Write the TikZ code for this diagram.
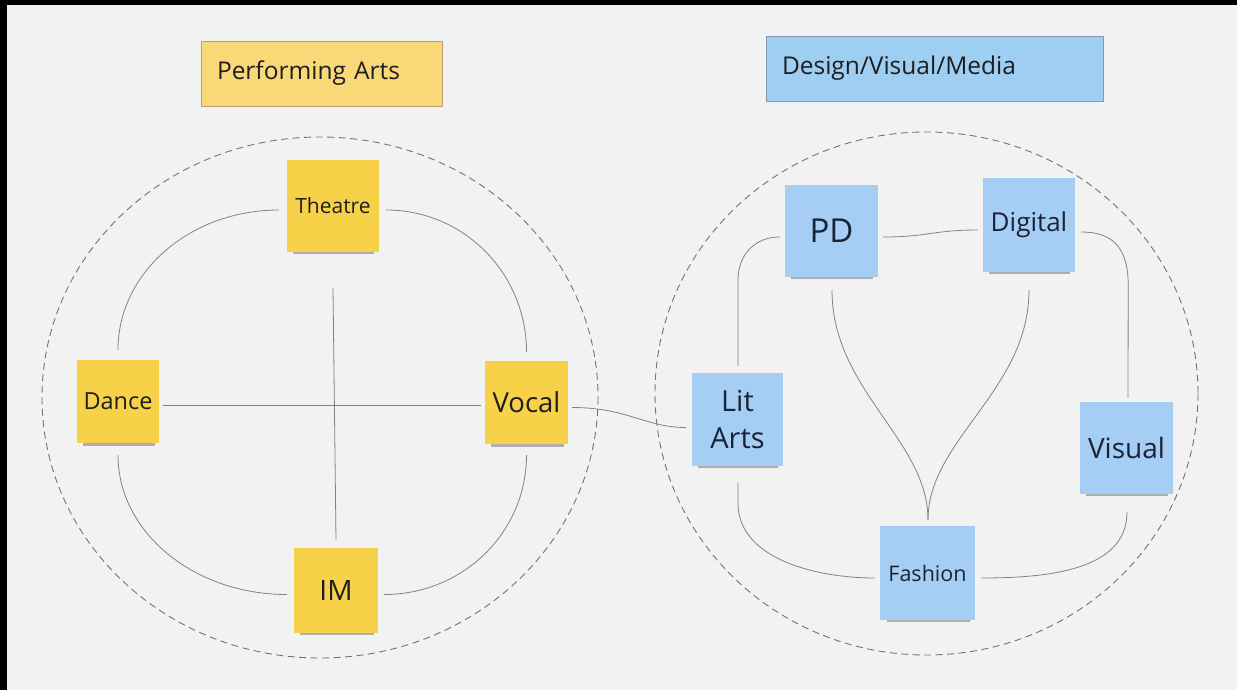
\documentclass[tikz,border=0pt]{standalone}
\usepackage{fontspec}
\setmainfont{Open Sans}
\usetikzlibrary{shadows}
\definecolor{bg}{RGB}{242,242,242}
\definecolor{noteY}{RGB}{247,210,72}
\definecolor{noteB}{RGB}{166,205,244}
\definecolor{headY}{RGB}{249,216,120}
\definecolor{headB}{RGB}{158,206,241}
\definecolor{headYline}{RGB}{185,160,100}
\definecolor{headBline}{RGB}{130,155,178}
\definecolor{link}{RGB}{130,130,130}
\definecolor{ring}{RGB}{115,115,115}
\definecolor{ink}{RGB}{30,30,30}
\definecolor{inkB}{RGB}{25,35,55}
\tikzset{
  note/.style={inner sep=0pt, align=center, text=ink,
    drop shadow={shadow xshift=1pt, shadow yshift=-8.5pt, shadow scale=0.88, opacity=0.28, fill=black}},
  ynote/.style={note, fill=noteY},
  bnote/.style={note, fill=noteB, text=inkB},
  header/.style={inner xsep=16pt, inner ysep=0pt, align=left, text=ink, font=\fontsize{24.5}{28}\selectfont},
  conn/.style={draw=link, line width=0.8pt},
  ringline/.style={draw=ring, line width=0.9pt, dash pattern=on 7pt off 4.5pt},
}
\begin{document}
\begin{tikzpicture}[x=1pt,y=-1pt]
\useasboundingbox (0,0) rectangle (1237,690);
\fill[black] (0,0) rectangle (1237,690);
\fill[bg] (7,5) rectangle (1237,690);

% headers
\node[header, fill=headY, draw=headYline, line width=0.7pt, minimum width=241pt, minimum height=65pt, text width=209pt] (pa) at (321.5,73.5) {Performing Arts};
\node[header, fill=headB, draw=headBline, line width=0.7pt, minimum width=337pt, minimum height=65pt, text width=305pt] (dvm) at (934.5,68.5) {Design/Visual/Media};

% dashed rings
\draw[ringline] (320,397.5) ellipse [x radius=278, y radius=260.5];
\draw[ringline] (926.5,393.5) ellipse [x radius=271.5, y radius=261.5];

% yellow notes
\node[ynote, minimum width=92pt, minimum height=92pt, font=\fontsize{21}{24}\selectfont] (theatre) at (333,206) {Theatre};
\node[ynote, minimum width=82pt, minimum height=83pt, font=\fontsize{23.5}{27}\selectfont] (dance) at (118,401.5) {Dance};
\node[ynote, minimum width=83pt, minimum height=83pt, font=\fontsize{27.5}{31}\selectfont] (vocal) at (526.5,402.5) {Vocal};
\node[ynote, minimum width=84pt, minimum height=85pt, font=\fontsize{28}{32}\selectfont] (im) at (336,590.5) {IM};

% blue notes
\node[bnote, minimum width=93pt, minimum height=92pt, font=\fontsize{33}{38}\selectfont] (pd) at (831.5,231) {PD};
\node[bnote, minimum width=92pt, minimum height=94pt, font=\fontsize{26}{30}\selectfont] (digital) at (1029,225) {Digital};
\node[bnote, minimum width=91pt, minimum height=93pt, font=\fontsize{29}{37}\selectfont] (lit) at (737.5,419.5) {Lit\\Arts};
\node[bnote, minimum width=93pt, minimum height=92pt, font=\fontsize{28}{32}\selectfont] (visual) at (1126.5,448) {Visual};
\node[bnote, minimum width=95pt, minimum height=94pt, font=\fontsize{21.5}{25}\selectfont] (fashion) at (927.5,573) {Fashion};

% left connectors
\draw[conn] ([xshift=-8pt,yshift=-4pt]theatre.west) .. controls +(-89,0) and +(0,-77) .. ([yshift=10pt]dance.north);
\draw[conn] ([xshift=7pt,yshift=-4pt]theatre.east) .. controls +(78,0) and +(0,-78) .. ([yshift=9pt]vocal.north);
\draw[conn] ([yshift=-12pt]dance.south) .. controls +(0,77) and +(-93,0) .. ([xshift=-7pt,yshift=-4pt]im.west);
\draw[conn] ([yshift=-11pt]vocal.south) .. controls +(0,77) and +(79,0) .. ([xshift=6pt,yshift=-4pt]im.east);
\draw[conn] ([yshift=-36pt]theatre.south) -- ([yshift=8pt]im.north);
\draw[conn] ([xshift=4pt,yshift=-4pt]dance.east) -- ([xshift=-4pt,yshift=-3pt]vocal.west);
\draw[conn] ([xshift=4pt,yshift=-5pt]vocal.east) .. controls +(55,0) and +(-40,0) .. ([xshift=-6pt,yshift=-8pt]lit.west);

% right connectors
\draw[conn] ([xshift=5pt,yshift=-6pt]pd.east) .. controls +(45,0) and +(-45,0) .. ([xshift=-5pt,yshift=-5pt]digital.west);
\draw[conn] ([xshift=0.5pt,yshift=7pt]lit.north) -- ++(0,-86) .. controls +(0,-25) and +(-25,0) .. ([xshift=-5pt,yshift=-6pt]pd.west);
\draw[conn] ([xshift=6pt,yshift=-7pt]digital.east) .. controls +(29,0) and +(0,-40) .. ++(47,53) -- ([xshift=1.5pt,yshift=4pt]visual.north);
\draw[conn] ([xshift=0.5pt,yshift=-17pt]lit.south) -- ++(0,20) .. controls +(0,55) and +(-60,0) .. ([xshift=-5pt,yshift=-5pt]fashion.west);
\draw[conn] ([xshift=0.5pt,yshift=-18pt]visual.south) .. controls +(0,58) and +(67,0)  .. ([xshift=6pt,yshift=-5pt]fashion.east);
\draw[conn] ([xshift=0.5pt,yshift=-13pt]pd.south) .. controls +(0,100) and +(0,-80) .. ([xshift=0.5pt,yshift=6pt]fashion.north);
\draw[conn] ([yshift=-18pt]digital.south) .. controls +(0,100) and +(0,-80) .. ([xshift=0.5pt,yshift=6pt]fashion.north);
\end{tikzpicture}
\end{document}
